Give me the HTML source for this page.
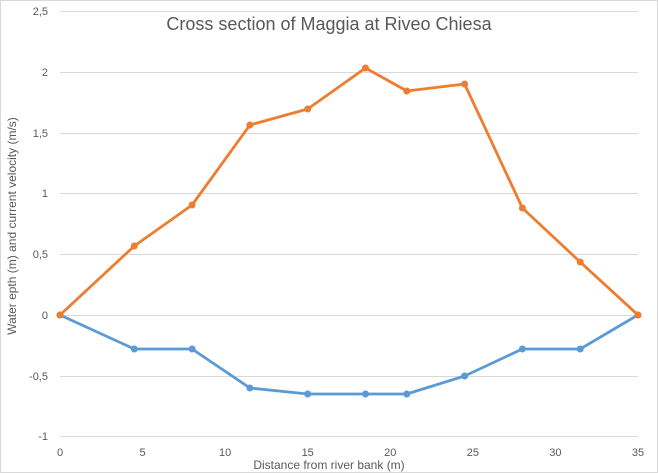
<!DOCTYPE html>
<html><head><meta charset="utf-8"><style>
html,body{margin:0;padding:0;background:#fff}
svg{display:block;font-family:"Liberation Sans",Calibri,sans-serif}
</style></head><body>
<svg width="658" height="473" viewBox="0 0 658 473">
<rect x="0.5" y="0.5" width="657" height="472" fill="#fff" stroke="#d9d9d9"/>
<g stroke="#d9d9d9" stroke-width="1">
<line x1="60" x2="638" y1="11.5" y2="11.5"/>
<line x1="60" x2="638" y1="72.5" y2="72.5"/>
<line x1="60" x2="638" y1="133.5" y2="133.5"/>
<line x1="60" x2="638" y1="193.5" y2="193.5"/>
<line x1="60" x2="638" y1="254.5" y2="254.5"/>
<line x1="60" x2="638" y1="315.5" y2="315.5"/>
<line x1="60" x2="638" y1="376.5" y2="376.5"/>
<line x1="60" x2="638" y1="436.5" y2="436.5"/>
</g>
<g fill="#595959" font-size="11" text-anchor="end">
<text x="48" y="15">2,5</text>
<text x="48" y="76">2</text>
<text x="48" y="137">1,5</text>
<text x="48" y="197">1</text>
<text x="48" y="258">0,5</text>
<text x="48" y="319">0</text>
<text x="48" y="380">-0,5</text>
<text x="48" y="440">-1</text>
</g>
<g fill="#595959" font-size="11" text-anchor="middle">
<text x="60" y="456">0</text>
<text x="142.6" y="456">5</text>
<text x="225.1" y="456">10</text>
<text x="307.7" y="456">15</text>
<text x="390.3" y="456">20</text>
<text x="472.9" y="456">25</text>
<text x="555.4" y="456">30</text>
<text x="638" y="456">35</text>
</g>
<text x="329" y="469" font-size="12" fill="#595959" text-anchor="middle">Distance from river bank (m)</text>
<text transform="translate(16,226) rotate(-90)" font-size="12" fill="#595959" text-anchor="middle">Water epth (m) and current velocity (m/s)</text>
<text x="329" y="30" font-size="18" fill="#595959" text-anchor="middle">Cross section of Maggia at Riveo Chiesa</text>
<polyline fill="none" stroke="#5b9bd5" stroke-width="2.8" stroke-linejoin="round" points="60,315 134.3,349 192.1,349 249.9,388 307.7,394 365.5,394 406.8,394 464.6,376 522.4,349 580.2,349 638,315"/>
<g fill="#5b9bd5">
<circle cx="60" cy="315" r="3.5"/><circle cx="134.3" cy="349" r="3.5"/><circle cx="192.1" cy="349" r="3.5"/><circle cx="249.9" cy="388" r="3.5"/><circle cx="307.7" cy="394" r="3.5"/><circle cx="365.5" cy="394" r="3.5"/><circle cx="406.8" cy="394" r="3.5"/><circle cx="464.6" cy="376" r="3.5"/><circle cx="522.4" cy="349" r="3.5"/><circle cx="580.2" cy="349" r="3.5"/><circle cx="638" cy="315" r="3.5"/>
</g>
<polyline fill="none" stroke="#ed7d31" stroke-width="2.8" stroke-linejoin="round" points="60,315 134.3,246 192.1,205 249.9,125 307.7,109 365.5,68 406.8,91 464.6,84 522.4,208 580.2,262 638,315"/>
<g fill="#ed7d31">
<circle cx="60" cy="315" r="3.5"/><circle cx="134.3" cy="246" r="3.5"/><circle cx="192.1" cy="205" r="3.5"/><circle cx="249.9" cy="125" r="3.5"/><circle cx="307.7" cy="109" r="3.5"/><circle cx="365.5" cy="68" r="3.5"/><circle cx="406.8" cy="91" r="3.5"/><circle cx="464.6" cy="84" r="3.5"/><circle cx="522.4" cy="208" r="3.5"/><circle cx="580.2" cy="262" r="3.5"/><circle cx="638" cy="315" r="3.5"/>
</g>
</svg>
</body></html>
